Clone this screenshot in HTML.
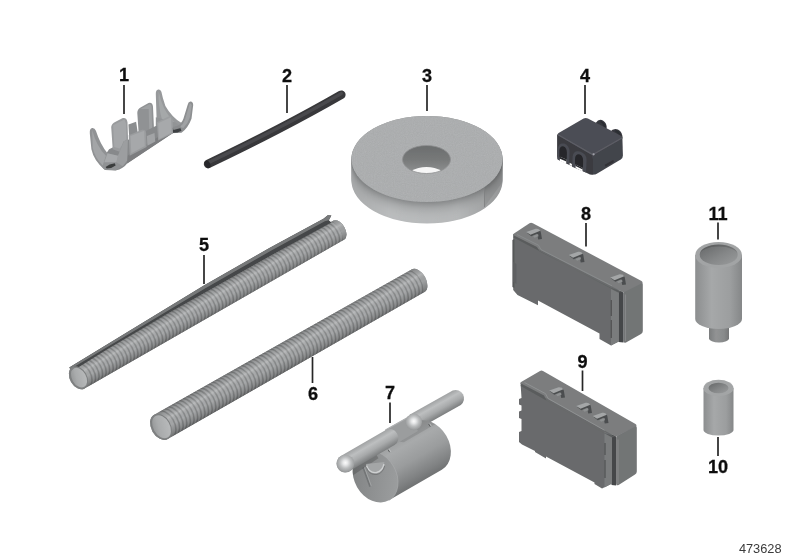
<!DOCTYPE html>
<html>
<head>
<meta charset="utf-8">
<title>473628</title>
<style>
html,body{margin:0;padding:0;background:#fff;}
body{width:800px;height:560px;overflow:hidden;font-family:"Liberation Sans",sans-serif;}
svg{display:block;}
.lbl{font-family:"Liberation Sans",sans-serif;font-weight:bold;font-size:18.1px;fill:#111;stroke:#111;stroke-width:0.3px;text-anchor:middle;}
.ld{stroke:#262626;stroke-width:1.7;fill:none;}
.num{font-family:"Liberation Sans",sans-serif;font-size:12.8px;fill:#3a3a3a;text-anchor:end;}
</style>
</head>
<body>
<svg width="800" height="560" viewBox="0 0 800 560">
<defs>
  <linearGradient id="gSide3" x1="0" x2="1" y1="0" y2="0">
    <stop offset="0" stop-color="#000" stop-opacity="0.10"/>
    <stop offset="0.25" stop-color="#000" stop-opacity="0.0"/>
    <stop offset="0.7" stop-color="#000" stop-opacity="0.02"/>
    <stop offset="1" stop-color="#000" stop-opacity="0.2"/>
  </linearGradient>
  <linearGradient id="gCyl" x1="0" x2="1" y1="0" y2="0">
    <stop offset="0" stop-color="#8c8e8f"/>
    <stop offset="0.35" stop-color="#a6a8a9"/>
    <stop offset="0.75" stop-color="#9c9e9f"/>
    <stop offset="1" stop-color="#858788"/>
  </linearGradient>
  <linearGradient id="gHole" x1="0" x2="0" y1="0" y2="1">
    <stop offset="0" stop-color="#6b6d6e"/>
    <stop offset="0.5" stop-color="#777979"/>
    <stop offset="1" stop-color="#909293"/>
  </linearGradient>
  <filter id="noise" x="0" y="0" width="100%" height="100%">
    <feTurbulence type="fractalNoise" baseFrequency="0.9" numOctaves="2" seed="3" result="n"/>
    <feColorMatrix type="matrix" values="0 0 0 0 0.45  0 0 0 0 0.46  0 0 0 0 0.47  0.9 0.9 0.9 0 -0.95"/>
    <feComposite in2="SourceGraphic" operator="in"/>
  </filter>
  <linearGradient id="gHole11" x1="0" x2="1" y1="0" y2="1">
    <stop offset="0" stop-color="#646667"/>
    <stop offset="0.55" stop-color="#858788"/>
    <stop offset="1" stop-color="#9a9c9d"/>
  </linearGradient>
  <g id="amark">
    <!-- embossed wedge mark, local coords centred ~ (0,0), ~13 wide x 8 tall -->
    <path d="M-6.5 -1.5 L1 -4.2 Q4 -4.6 4.6 -2.2 L5.6 3.6 L2.6 4 L1.6 -0.6 L-3 1.4 Z" fill="#4c4e4f"/>
    <path d="M-7 -2 L0.5 -4.6 Q3.4 -5 4.2 -3 L-3.6 0.2 Z" fill="#a4a6a7"/>
    <path d="M-1.6 1.2 L2.4 -0.4 L2.8 1.4 L-0.4 2.6 Z" fill="#8e9091"/>
  </g>
  <linearGradient id="gRod" x1="0" x2="0" y1="0" y2="1">
    <stop offset="0" stop-color="#a0a2a3"/>
    <stop offset="0.3" stop-color="#bdbfc0"/>
    <stop offset="0.62" stop-color="#a8aaab"/>
    <stop offset="1" stop-color="#7c7e7f"/>
  </linearGradient>
  <radialGradient id="gBall" cx="0.5" cy="0.45" r="0.62">
    <stop offset="0" stop-color="#fbfbfb"/>
    <stop offset="0.22" stop-color="#e6e7e8"/>
    <stop offset="0.5" stop-color="#bcbebf"/>
    <stop offset="0.8" stop-color="#9c9e9f"/>
    <stop offset="1" stop-color="#858788"/>
  </radialGradient>
  <linearGradient id="gBody7" x1="0" x2="0" y1="0" y2="1">
    <stop offset="0" stop-color="#959798"/>
    <stop offset="0.28" stop-color="#a8aaab"/>
    <stop offset="0.58" stop-color="#9a9c9d"/>
    <stop offset="0.86" stop-color="#808283"/>
    <stop offset="1" stop-color="#707273"/>
  </linearGradient>
  <linearGradient id="gFace7" x1="0" x2="1" y1="0" y2="1">
    <stop offset="0" stop-color="#7c7e7f"/>
    <stop offset="0.5" stop-color="#8f9192"/>
    <stop offset="1" stop-color="#a0a2a3"/>
  </linearGradient>
  <linearGradient id="gTubeIn" x1="0" x2="1" y1="0" y2="0.4">
    <stop offset="0" stop-color="#8f9192"/>
    <stop offset="0.45" stop-color="#a9abac"/>
    <stop offset="1" stop-color="#b6b8b9"/>
  </linearGradient>
  <linearGradient id="gTubeSh" x1="0" x2="0" y1="0" y2="1">
    <stop offset="0" stop-color="#000" stop-opacity="0.34"/>
    <stop offset="0.16" stop-color="#000" stop-opacity="0.10"/>
    <stop offset="0.36" stop-color="#fff" stop-opacity="0.16"/>
    <stop offset="0.6" stop-color="#000" stop-opacity="0.03"/>
    <stop offset="0.85" stop-color="#000" stop-opacity="0.22"/>
    <stop offset="1" stop-color="#000" stop-opacity="0.42"/>
  </linearGradient>
  <filter id="soft" filterUnits="userSpaceOnUse" x="0" y="0" width="800" height="560"><feGaussianBlur stdDeviation="0.45"/></filter>
</defs>
<rect x="0" y="0" width="800" height="560" fill="#fff"/>
<g filter="url(#soft)">

<!-- ========== PART 1 ========== -->
<g id="p1">
  <path d="M128.4 124.4 L136.1 121.7 L137.8 133.2 L129.2 136.5Z" fill="#8b8d8f"/>
  <path d="M137.3 113.1Q137.3 109.1 140.5 107.5L148.5 103.0Q152.5 101.9 153.0 106.7L154.2 133.2 138.9 136.5Z" fill="#909294"/>
  <path d="M140.5 109.1L149.3 104.3Q151.3 104.0 151.6 106.7L152.2 131.6 149.3 132.6L148.7 109.1Z" fill="#9fa1a3"/>
  <path d="M158.2 89.5Q155.8 89.8 155.8 93.8L156.6 119.6 181.5 126.0L182.3 123.6Q171.8 117.2 165.4 105.9Q162.5 97.9 161.4 91.8Q160.3 89.2 158.2 89.5Z" fill="#97999b"/>
  <path d="M158.7 91.4Q160.3 99.5 163.8 107.5Q168.6 117.2 175.1 122.8L162.2 120.4Q157.7 104.3 158.7 91.4Z" fill="#a9abad" opacity="0.8"/>
  <path d="M155.8 117.2 L175.1 122.3 L181.5 127.1 L171.8 129.2 L155.8 126.8Z" fill="#929496"/>
  <path d="M190.3 101.6Q188.2 101.9 187.6 105.1L183.4 118.8Q181.5 124.4 175.1 127.1L170.2 133.2 181.5 132.8Q187.9 128.4 191.5 118.8L193.2 105.1Q193.1 101.4 190.3 101.6Z" fill="#8d8f91"/>
  <path d="M189.9 103.0L185.0 119.6Q183.4 124.4 179.9 127.1L183.4 128.1Q187.9 123.6 189.9 117.2L191.8 105.1Z" fill="#a0a2a4"/>
  <path d="M171.0 128.1 L179.9 127.1 L181.5 130.8 L177.5 132.6 L170.2 132.9Z" fill="#3e4042"/>
  <path d="M172.6 127.1 L180.2 125.5 L180.9 128.1 L173.5 130.0Z" fill="#8a8c8e"/>
  <path d="M109.1 149.3L155.8 126.0 171.8 127.1 172.6 133.2 127.1 163.5Q123.6 168.6 115.6 170.6L105.1 169.9Q101.1 167.0 100.3 162.2Z" fill="#87898b"/>
  <path d="M127.6 155.8 L171.0 129.2 L172.6 133.2 L127.1 163.5Z" fill="#7b7d7f"/>
  <path d="M156.9 122.3L168.6 116.4Q172.3 115.6 172.6 119.6L173.0 133.2 158.2 140.5Z" fill="#9c9ea0"/>
  <path d="M158.2 123.3 L171.0 117.2 L171.5 132.4 L159.3 138.9Z" fill="#a7a9ab"/>
  <path d="M146.9 136.1 L154.5 132.9 L155.3 141.6 L147.4 145.8Z" fill="#a2a4a6"/>
  <path d="M128.7 135.2L142.1 129.7Q145.8 129.2 146.1 132.9L146.6 146.9 129.7 155.8Z" fill="#9a9c9e"/>
  <path d="M130.4 136.1 L144.2 130.8 L144.8 146.1 L131.3 153.3Z" fill="#a6a8aa"/>
  <path d="M111.2 127.1Q111.5 123.3 115.6 121.7L122.8 118.1Q126.8 117.5 127.5 122.3L128.1 140.5 121.7 152.5 112.7 149.3Z" fill="#999b9d"/>
  <path d="M113.1 125.2 L124.4 119.6 L126.0 123.6 L126.5 138.9 L119.6 148.5 L114.3 146.9Z" fill="#a5a7a9"/>
  <path d="M92.2 128.1Q89.5 128.7 89.8 133.2L91.4 149.3Q93.8 160.6 104.3 169.4L115.6 170.2Q125.2 166.2 127.1 159.0L127.8 139.7 123.6 141.3L118.0 155.8 107.5 153.3Q100.3 144.5 95.9 130.8Q94.6 127.8 92.2 128.1Z" fill="#909294"/>
  <path d="M92.2 130.0Q96.3 146.1 105.9 155.8L102.7 165.4Q94.6 157.4 92.7 147.7Z" fill="#a3a5a7"/>
  <path d="M118.0 155.8 L123.9 141.3 L127.8 139.7 L127.1 160.6 L122.8 166.2 L116.4 162.2Z" fill="#9c9ea0"/>
  <path d="M107.5 153.3 L118.0 155.8 L116.4 162.2 L104.3 162.2Z" fill="#a7a9ab"/>
  <path d="M105.6 167.0Q109.1 163.8 114.8 163.2L115.6 165.4Q111.5 168.6 106.7 168.6Z" fill="#3a3c3e"/>
</g>
<!-- ========== PART 2 ========== -->
<g id="p2">
  <path d="M208.2 163.9 C250 144 300 118.5 341.2 94.8" stroke="#38383a" stroke-width="8.8" stroke-linecap="round" fill="none"/>
  <path d="M208.2 162.7 C250 142.8 300 117.3 341.2 93.6" stroke="#4a4a4d" stroke-width="3.4" stroke-linecap="round" fill="none"/>
  <ellipse cx="207.6" cy="164.4" rx="2.7" ry="4" transform="rotate(-26 207.6 164.4)" fill="#28282a"/>
</g>
<!-- ========== PART 3 ========== -->
<g id="p3">
  <g>
  <ellipse cx="427" cy="180.50" rx="75.5" ry="43" fill="#babcbd"/>
  <ellipse cx="427" cy="179.52" rx="75.5" ry="43" fill="#babcbd"/>
  <ellipse cx="427" cy="178.55" rx="75.5" ry="43" fill="#babcbd"/>
  <ellipse cx="427" cy="177.57" rx="75.5" ry="43" fill="#babcbd"/>
  <ellipse cx="427" cy="176.59" rx="75.5" ry="43" fill="#b9bbbc"/>
  <ellipse cx="427" cy="175.61" rx="75.5" ry="43" fill="#b9bbbc"/>
  <ellipse cx="427" cy="174.64" rx="75.5" ry="43" fill="#b8babb"/>
  <ellipse cx="427" cy="173.66" rx="75.5" ry="43" fill="#b7b9ba"/>
  <ellipse cx="427" cy="172.68" rx="75.5" ry="43" fill="#b6b8b9"/>
  <ellipse cx="427" cy="171.70" rx="75.5" ry="43" fill="#b5b7b8"/>
  <ellipse cx="427" cy="170.73" rx="75.5" ry="43" fill="#b3b5b6"/>
  <ellipse cx="427" cy="169.75" rx="75.5" ry="43" fill="#b1b3b4"/>
  <ellipse cx="427" cy="168.77" rx="75.5" ry="43" fill="#afb1b2"/>
  <ellipse cx="427" cy="167.80" rx="75.5" ry="43" fill="#adafb0"/>
  <ellipse cx="427" cy="166.82" rx="75.5" ry="43" fill="#aaacad"/>
  <ellipse cx="427" cy="165.84" rx="75.5" ry="43" fill="#a7a9aa"/>
  <ellipse cx="427" cy="164.86" rx="75.5" ry="43" fill="#a3a5a6"/>
  <ellipse cx="427" cy="163.89" rx="75.5" ry="43" fill="#9fa1a2"/>
  <ellipse cx="427" cy="162.91" rx="75.5" ry="43" fill="#9b9d9e"/>
  <ellipse cx="427" cy="161.93" rx="75.5" ry="43" fill="#969899"/>
  <ellipse cx="427" cy="160.95" rx="75.5" ry="43" fill="#919394"/>
  <ellipse cx="427" cy="159.98" rx="75.5" ry="43" fill="#8c8e8f"/>
  <ellipse cx="427" cy="159.00" rx="75.5" ry="43" fill="#868889"/>
  </g>
  <!-- horizontal shading of wall -->
  <path d="M351.5 159 L351.5 180.5 A75.5 43 0 0 0 502.5 180.5 L502.5 159 A75.5 43 0 0 1 351.5 159Z" fill="url(#gSide3)"/>
  <!-- tape end -->
  <path d="M484.5 185.5 L484.5 207 L502.5 182 L502.5 160 Z" fill="#000" opacity="0.07"/>
  <path d="M484.5 185.5 L484.5 207" stroke="#7d7f80" stroke-width="0.8"/>
  <!-- top -->
  <ellipse cx="427" cy="159" rx="75.5" ry="43" fill="#a9abac"/>
  <ellipse cx="427" cy="159" rx="75.5" ry="43" fill="#fff" filter="url(#noise)" opacity="0.8"/>
  <!-- hole -->
  <clipPath id="holeclip"><ellipse cx="426.5" cy="159.5" rx="24" ry="14"/></clipPath>
  <ellipse cx="426.5" cy="159.5" rx="24" ry="14" fill="url(#gHole)"/>
  <g clip-path="url(#holeclip)">
    <ellipse cx="426.5" cy="180.5" rx="21" ry="13.5" fill="#f6f6f6"/>
  </g>
  <ellipse cx="426.5" cy="159.5" rx="24" ry="14" fill="none" stroke="#8f9192" stroke-width="0.8"/>
</g>
<!-- ========== PART 4 ========== -->
<g id="p4">
  <path d="M595.7 122.9Q598.6 118.6 602.9 120.4Q607.1 122.9 606.7 128.6L599.3 130.0Z" fill="#36373d"/>
  <path d="M601.0 121.0Q605.7 122.9 605.9 127.9L603.6 128.6Q603.6 123.6 600.0 122.1Z" fill="#2c2d32"/>
  <path d="M610.0 132.1Q613.3 127.9 617.9 129.6Q622.9 132.1 622.4 138.6L615.0 139.3Z" fill="#36373d"/>
  <path d="M616.1 130.1Q621.4 132.4 621.6 138.1L619.0 138.6Q619.0 133.3 615.0 131.4Z" fill="#2c2d32"/>
  <path d="M557.1 134.3L592.9 154.3 593.3 174.7Q590.7 175.3 587.9 173.6L558.6 160.0Q557.0 159.0 557.1 156.4Z" fill="#3a3b41"/>
  <path d="M592.9 154.3L622.4 137.6 622.9 155.7Q622.9 158.1 620.7 159.6L596.4 173.9Q594.3 175.0 593.0 174.4Z" fill="#43444b"/>
  <path d="M604.7 164.7L613.3 160.0 613.9 161.9 605.6 166.7Z" fill="#303136"/>
  <path d="M583.6 118.6Q585.7 117.3 587.9 118.6L621.4 136.1Q623.3 137.6 621.4 139.0L595.0 154.3Q592.9 155.3 590.7 154.3L558.6 135.7Q556.7 134.3 558.6 132.9Z" fill="#4c4d54"/>
  <path d="M558.1 134.7L591.0 153.6Q592.9 154.6 594.7 153.6L621.9 138.1" stroke="#5d5e66" stroke-width="1.2" fill="none"/>
  <circle cx="593.6" cy="154.3" r="1.1" fill="#a0a1a8"/>
  <path d="M557.6 159.6L557.9 148.6Q558.6 142.4 564.3 143.6Q569.6 145.7 569.6 152.1L569.0 163.9Z" fill="#4a4b52"/>
  <path d="M559.3 158.7L559.4 150.0Q560.0 145.6 563.9 146.4Q567.0 147.9 566.9 152.9L566.6 161.9Z" fill="#25262a"/>
  <path d="M572.1 166.7L572.7 156.1Q573.6 150.1 580.0 151.6Q586.7 153.9 586.6 160.0L586.0 172.4Z" fill="#4a4b52"/>
  <path d="M575.0 165.6L575.1 157.9Q575.9 153.3 579.9 154.4Q583.3 155.9 583.1 161.0L582.9 170.1Z" fill="#25262a"/>
  <path d="M559.9 161.0L566.1 163.9 566.4 159.6 559.9 156.7Z" fill="#ffffff"/>
  <path d="M559.9 156.7L566.4 159.6 566.4 161.6 559.9 158.7Z" fill="#25262a"/>
  <path d="M575.6 168.1L582.4 171.6 582.7 167.9 575.6 164.4Z" fill="#ffffff"/>
  <path d="M575.6 164.4L582.7 167.9 582.7 169.6 575.6 166.1Z" fill="#25262a"/>
  <path d="M569.6 165.0L571.9 166.1 571.9 163.9 569.6 162.7Z" fill="#ffffff"/>
</g>
<!-- ========== PART 5 ========== -->
<g id="p5" transform="translate(78.50 377.70) rotate(-29.55)">
  <clipPath id="p5clip"><path d="M0 -12.30 L299.46 -10.80 A6.00 10.80 0 0 1 299.46 10.80 L0 12.30 A8.60 12.30 0 0 1 0 -12.30Z"/></clipPath>
  <path d="M0 -12.30 L299.46 -10.80 A6.00 10.80 0 0 1 299.46 10.80 L0 12.30 A8.60 12.30 0 0 1 0 -12.30Z" fill="#a9abac"/>
  <g clip-path="url(#p5clip)">
    <path d="M4.10 -13.28A8.56 13.28 0 0 1 4.10 13.28M8.20 -13.26A8.53 13.26 0 0 1 8.20 13.26M12.30 -13.24A8.49 13.24 0 0 1 12.30 13.24M16.40 -13.22A8.46 13.22 0 0 1 16.40 13.22M20.50 -13.20A8.42 13.20 0 0 1 20.50 13.20M24.60 -13.18A8.39 13.18 0 0 1 24.60 13.18M28.70 -13.16A8.35 13.16 0 0 1 28.70 13.16M32.80 -13.14A8.32 13.14 0 0 1 32.80 13.14M36.90 -13.12A8.28 13.12 0 0 1 36.90 13.12M41.00 -13.09A8.24 13.09 0 0 1 41.00 13.09M45.10 -13.07A8.21 13.07 0 0 1 45.10 13.07M49.20 -13.05A8.17 13.05 0 0 1 49.20 13.05M53.30 -13.03A8.14 13.03 0 0 1 53.30 13.03M57.40 -13.01A8.10 13.01 0 0 1 57.40 13.01M61.50 -12.99A8.07 12.99 0 0 1 61.50 12.99M65.60 -12.97A8.03 12.97 0 0 1 65.60 12.97M69.70 -12.95A7.99 12.95 0 0 1 69.70 12.95M73.80 -12.93A7.96 12.93 0 0 1 73.80 12.93M77.90 -12.91A7.92 12.91 0 0 1 77.90 12.91M82.00 -12.89A7.89 12.89 0 0 1 82.00 12.89M86.10 -12.87A7.85 12.87 0 0 1 86.10 12.87M90.20 -12.85A7.82 12.85 0 0 1 90.20 12.85M94.30 -12.83A7.78 12.83 0 0 1 94.30 12.83M98.40 -12.81A7.75 12.81 0 0 1 98.40 12.81M102.50 -12.79A7.71 12.79 0 0 1 102.50 12.79M106.60 -12.77A7.67 12.77 0 0 1 106.60 12.77M110.70 -12.75A7.64 12.75 0 0 1 110.70 12.75M114.80 -12.72A7.60 12.72 0 0 1 114.80 12.72M118.90 -12.70A7.57 12.70 0 0 1 118.90 12.70M123.00 -12.68A7.53 12.68 0 0 1 123.00 12.68M127.10 -12.66A7.50 12.66 0 0 1 127.10 12.66M131.20 -12.64A7.46 12.64 0 0 1 131.20 12.64M135.30 -12.62A7.43 12.62 0 0 1 135.30 12.62M139.40 -12.60A7.39 12.60 0 0 1 139.40 12.60M143.50 -12.58A7.35 12.58 0 0 1 143.50 12.58M147.60 -12.56A7.32 12.56 0 0 1 147.60 12.56M151.70 -12.54A7.28 12.54 0 0 1 151.70 12.54M155.80 -12.52A7.25 12.52 0 0 1 155.80 12.52M159.90 -12.50A7.21 12.50 0 0 1 159.90 12.50M164.00 -12.48A7.18 12.48 0 0 1 164.00 12.48M168.10 -12.46A7.14 12.46 0 0 1 168.10 12.46M172.20 -12.44A7.10 12.44 0 0 1 172.20 12.44M176.30 -12.42A7.07 12.42 0 0 1 176.30 12.42M180.40 -12.40A7.03 12.40 0 0 1 180.40 12.40M184.50 -12.38A7.00 12.38 0 0 1 184.50 12.38M188.60 -12.36A6.96 12.36 0 0 1 188.60 12.36M192.70 -12.33A6.93 12.33 0 0 1 192.70 12.33M196.80 -12.31A6.89 12.31 0 0 1 196.80 12.31M200.90 -12.29A6.86 12.29 0 0 1 200.90 12.29M205.00 -12.27A6.82 12.27 0 0 1 205.00 12.27M209.10 -12.25A6.78 12.25 0 0 1 209.10 12.25M213.20 -12.23A6.75 12.23 0 0 1 213.20 12.23M217.30 -12.21A6.71 12.21 0 0 1 217.30 12.21M221.40 -12.19A6.68 12.19 0 0 1 221.40 12.19M225.50 -12.17A6.64 12.17 0 0 1 225.50 12.17M229.60 -12.15A6.61 12.15 0 0 1 229.60 12.15M233.70 -12.13A6.57 12.13 0 0 1 233.70 12.13M237.80 -12.11A6.54 12.11 0 0 1 237.80 12.11M241.90 -12.09A6.50 12.09 0 0 1 241.90 12.09M246.00 -12.07A6.46 12.07 0 0 1 246.00 12.07M250.10 -12.05A6.43 12.05 0 0 1 250.10 12.05M254.20 -12.03A6.39 12.03 0 0 1 254.20 12.03M258.30 -12.01A6.36 12.01 0 0 1 258.30 12.01M262.40 -11.99A6.32 11.99 0 0 1 262.40 11.99M266.50 -11.97A6.29 11.97 0 0 1 266.50 11.97M270.60 -11.94A6.25 11.94 0 0 1 270.60 11.94M274.70 -11.92A6.21 11.92 0 0 1 274.70 11.92M278.80 -11.90A6.18 11.90 0 0 1 278.80 11.90M282.90 -11.88A6.14 11.88 0 0 1 282.90 11.88M287.00 -11.86A6.11 11.86 0 0 1 287.00 11.86M291.10 -11.84A6.07 11.84 0 0 1 291.10 11.84M295.20 -11.82A6.04 11.82 0 0 1 295.20 11.82M299.30 -11.80A6.00 11.80 0 0 1 299.30 11.80M303.40 -11.78A5.97 11.78 0 0 1 303.40 11.78" stroke="#8a8c8d" stroke-width="1.5" fill="none"/>
    <path d="M6.00 -13.27A8.55 13.27 0 0 1 6.00 13.27M10.10 -13.25A8.51 13.25 0 0 1 10.10 13.25M14.20 -13.23A8.48 13.23 0 0 1 14.20 13.23M18.30 -13.21A8.44 13.21 0 0 1 18.30 13.21M22.40 -13.19A8.41 13.19 0 0 1 22.40 13.19M26.50 -13.17A8.37 13.17 0 0 1 26.50 13.17M30.60 -13.15A8.33 13.15 0 0 1 30.60 13.15M34.70 -13.13A8.30 13.13 0 0 1 34.70 13.13M38.80 -13.11A8.26 13.11 0 0 1 38.80 13.11M42.90 -13.09A8.23 13.09 0 0 1 42.90 13.09M47.00 -13.06A8.19 13.06 0 0 1 47.00 13.06M51.10 -13.04A8.16 13.04 0 0 1 51.10 13.04M55.20 -13.02A8.12 13.02 0 0 1 55.20 13.02M59.30 -13.00A8.09 13.00 0 0 1 59.30 13.00M63.40 -12.98A8.05 12.98 0 0 1 63.40 12.98M67.50 -12.96A8.01 12.96 0 0 1 67.50 12.96M71.60 -12.94A7.98 12.94 0 0 1 71.60 12.94M75.70 -12.92A7.94 12.92 0 0 1 75.70 12.92M79.80 -12.90A7.91 12.90 0 0 1 79.80 12.90M83.90 -12.88A7.87 12.88 0 0 1 83.90 12.88M88.00 -12.86A7.84 12.86 0 0 1 88.00 12.86M92.10 -12.84A7.80 12.84 0 0 1 92.10 12.84M96.20 -12.82A7.76 12.82 0 0 1 96.20 12.82M100.30 -12.80A7.73 12.80 0 0 1 100.30 12.80M104.40 -12.78A7.69 12.78 0 0 1 104.40 12.78M108.50 -12.76A7.66 12.76 0 0 1 108.50 12.76M112.60 -12.74A7.62 12.74 0 0 1 112.60 12.74M116.70 -12.72A7.59 12.72 0 0 1 116.70 12.72M120.80 -12.69A7.55 12.69 0 0 1 120.80 12.69M124.90 -12.67A7.52 12.67 0 0 1 124.90 12.67M129.00 -12.65A7.48 12.65 0 0 1 129.00 12.65M133.10 -12.63A7.44 12.63 0 0 1 133.10 12.63M137.20 -12.61A7.41 12.61 0 0 1 137.20 12.61M141.30 -12.59A7.37 12.59 0 0 1 141.30 12.59M145.40 -12.57A7.34 12.57 0 0 1 145.40 12.57M149.50 -12.55A7.30 12.55 0 0 1 149.50 12.55M153.60 -12.53A7.27 12.53 0 0 1 153.60 12.53M157.70 -12.51A7.23 12.51 0 0 1 157.70 12.51M161.80 -12.49A7.20 12.49 0 0 1 161.80 12.49M165.90 -12.47A7.16 12.47 0 0 1 165.90 12.47M170.00 -12.45A7.12 12.45 0 0 1 170.00 12.45M174.10 -12.43A7.09 12.43 0 0 1 174.10 12.43M178.20 -12.41A7.05 12.41 0 0 1 178.20 12.41M182.30 -12.39A7.02 12.39 0 0 1 182.30 12.39M186.40 -12.37A6.98 12.37 0 0 1 186.40 12.37M190.50 -12.35A6.95 12.35 0 0 1 190.50 12.35M194.60 -12.33A6.91 12.33 0 0 1 194.60 12.33M198.70 -12.30A6.87 12.30 0 0 1 198.70 12.30M202.80 -12.28A6.84 12.28 0 0 1 202.80 12.28M206.90 -12.26A6.80 12.26 0 0 1 206.90 12.26M211.00 -12.24A6.77 12.24 0 0 1 211.00 12.24M215.10 -12.22A6.73 12.22 0 0 1 215.10 12.22M219.20 -12.20A6.70 12.20 0 0 1 219.20 12.20M223.30 -12.18A6.66 12.18 0 0 1 223.30 12.18M227.40 -12.16A6.63 12.16 0 0 1 227.40 12.16M231.50 -12.14A6.59 12.14 0 0 1 231.50 12.14M235.60 -12.12A6.55 12.12 0 0 1 235.60 12.12M239.70 -12.10A6.52 12.10 0 0 1 239.70 12.10M243.80 -12.08A6.48 12.08 0 0 1 243.80 12.08M247.90 -12.06A6.45 12.06 0 0 1 247.90 12.06M252.00 -12.04A6.41 12.04 0 0 1 252.00 12.04M256.10 -12.02A6.38 12.02 0 0 1 256.10 12.02M260.20 -12.00A6.34 12.00 0 0 1 260.20 12.00M264.30 -11.98A6.31 11.98 0 0 1 264.30 11.98M268.40 -11.96A6.27 11.96 0 0 1 268.40 11.96M272.50 -11.94A6.23 11.94 0 0 1 272.50 11.94M276.60 -11.91A6.20 11.91 0 0 1 276.60 11.91M280.70 -11.89A6.16 11.89 0 0 1 280.70 11.89M284.80 -11.87A6.13 11.87 0 0 1 284.80 11.87M288.90 -11.85A6.09 11.85 0 0 1 288.90 11.85M293.00 -11.83A6.06 11.83 0 0 1 293.00 11.83M297.10 -11.81A6.02 11.81 0 0 1 297.10 11.81M301.20 -11.79A5.98 11.79 0 0 1 301.20 11.79M305.30 -11.77A5.95 11.77 0 0 1 305.30 11.77" stroke="#b1b3b4" stroke-width="1.1" fill="none" opacity="0.55"/>
    <path d="M294.46 -12.80 A6.00 12.80 0 0 1 294.46 12.80 L307.46 12.80 L307.46 -12.80Z" fill="#a3a5a6"/>
    <rect x="-10.6" y="-13.30" width="320.1" height="26.60" fill="url(#gTubeSh)"/>
  </g>
  <path d="M-3.00 -13.50 L68.00 -15.60 L154.00 -18.30 L230.00 -18.60 L291.46 -17.40 L296.96 -18.40 L299.96 -16.40 L295.46 -13.60 L296.46 -10.20 L230 -11.2 L110 -11.6 L40 -10.6 L-2 -8.70 Z" fill="#454748"/>
  <path d="M-3.00 -13.50 L68.00 -15.60 L154.00 -18.30 L230.00 -18.60 L291.46 -17.40 L296.96 -18.40 L299.96 -16.40 L295.46 -13.60 L291.46 -14.60 L230.00 -15.50 L154.00 -15.20 L68.00 -13.20 L-3.00 -11.50 Z" fill="#77797a"/>
  <ellipse cx="0" cy="0" rx="8.60" ry="12.30" fill="#7e8081"/>
  <ellipse cx="0.5" cy="0.2" rx="7.10" ry="10.60" fill="url(#gTubeIn)"/>
</g>
<!-- ========== PART 6 ========== -->
<g id="p6" transform="translate(161.00 426.80) rotate(-29.60)">
  <clipPath id="p6clip"><path d="M0 -14.00 L295.58 -13.00 A8.00 13.00 0 0 1 295.58 13.00 L0 14.00 A9.80 14.00 0 0 1 0 -14.00Z"/></clipPath>
  <path d="M0 -14.00 L295.58 -13.00 A8.00 13.00 0 0 1 295.58 13.00 L0 14.00 A9.80 14.00 0 0 1 0 -14.00Z" fill="#a9abac"/>
  <g clip-path="url(#p6clip)">
    <path d="M4.20 -14.99A9.77 14.99 0 0 1 4.20 14.99M8.40 -14.97A9.75 14.97 0 0 1 8.40 14.97M12.60 -14.96A9.72 14.96 0 0 1 12.60 14.96M16.80 -14.94A9.70 14.94 0 0 1 16.80 14.94M21.00 -14.93A9.67 14.93 0 0 1 21.00 14.93M25.20 -14.91A9.65 14.91 0 0 1 25.20 14.91M29.40 -14.90A9.62 14.90 0 0 1 29.40 14.90M33.60 -14.89A9.60 14.89 0 0 1 33.60 14.89M37.80 -14.87A9.57 14.87 0 0 1 37.80 14.87M42.00 -14.86A9.54 14.86 0 0 1 42.00 14.86M46.20 -14.84A9.52 14.84 0 0 1 46.20 14.84M50.40 -14.83A9.49 14.83 0 0 1 50.40 14.83M54.60 -14.82A9.47 14.82 0 0 1 54.60 14.82M58.80 -14.80A9.44 14.80 0 0 1 58.80 14.80M63.00 -14.79A9.42 14.79 0 0 1 63.00 14.79M67.20 -14.77A9.39 14.77 0 0 1 67.20 14.77M71.40 -14.76A9.37 14.76 0 0 1 71.40 14.76M75.60 -14.74A9.34 14.74 0 0 1 75.60 14.74M79.80 -14.73A9.31 14.73 0 0 1 79.80 14.73M84.00 -14.72A9.29 14.72 0 0 1 84.00 14.72M88.20 -14.70A9.26 14.70 0 0 1 88.20 14.70M92.40 -14.69A9.24 14.69 0 0 1 92.40 14.69M96.60 -14.67A9.21 14.67 0 0 1 96.60 14.67M100.80 -14.66A9.19 14.66 0 0 1 100.80 14.66M105.00 -14.64A9.16 14.64 0 0 1 105.00 14.64M109.20 -14.63A9.13 14.63 0 0 1 109.20 14.63M113.40 -14.62A9.11 14.62 0 0 1 113.40 14.62M117.60 -14.60A9.08 14.60 0 0 1 117.60 14.60M121.80 -14.59A9.06 14.59 0 0 1 121.80 14.59M126.00 -14.57A9.03 14.57 0 0 1 126.00 14.57M130.20 -14.56A9.01 14.56 0 0 1 130.20 14.56M134.40 -14.55A8.98 14.55 0 0 1 134.40 14.55M138.60 -14.53A8.96 14.53 0 0 1 138.60 14.53M142.80 -14.52A8.93 14.52 0 0 1 142.80 14.52M147.00 -14.50A8.90 14.50 0 0 1 147.00 14.50M151.20 -14.49A8.88 14.49 0 0 1 151.20 14.49M155.40 -14.47A8.85 14.47 0 0 1 155.40 14.47M159.60 -14.46A8.83 14.46 0 0 1 159.60 14.46M163.80 -14.45A8.80 14.45 0 0 1 163.80 14.45M168.00 -14.43A8.78 14.43 0 0 1 168.00 14.43M172.20 -14.42A8.75 14.42 0 0 1 172.20 14.42M176.40 -14.40A8.73 14.40 0 0 1 176.40 14.40M180.60 -14.39A8.70 14.39 0 0 1 180.60 14.39M184.80 -14.37A8.67 14.37 0 0 1 184.80 14.37M189.00 -14.36A8.65 14.36 0 0 1 189.00 14.36M193.20 -14.35A8.62 14.35 0 0 1 193.20 14.35M197.40 -14.33A8.60 14.33 0 0 1 197.40 14.33M201.60 -14.32A8.57 14.32 0 0 1 201.60 14.32M205.80 -14.30A8.55 14.30 0 0 1 205.80 14.30M210.00 -14.29A8.52 14.29 0 0 1 210.00 14.29M214.20 -14.28A8.50 14.28 0 0 1 214.20 14.28M218.40 -14.26A8.47 14.26 0 0 1 218.40 14.26M222.60 -14.25A8.44 14.25 0 0 1 222.60 14.25M226.80 -14.23A8.42 14.23 0 0 1 226.80 14.23M231.00 -14.22A8.39 14.22 0 0 1 231.00 14.22M235.20 -14.20A8.37 14.20 0 0 1 235.20 14.20M239.40 -14.19A8.34 14.19 0 0 1 239.40 14.19M243.60 -14.18A8.32 14.18 0 0 1 243.60 14.18M247.80 -14.16A8.29 14.16 0 0 1 247.80 14.16M252.00 -14.15A8.27 14.15 0 0 1 252.00 14.15M256.20 -14.13A8.24 14.13 0 0 1 256.20 14.13M260.40 -14.12A8.21 14.12 0 0 1 260.40 14.12M264.60 -14.10A8.19 14.10 0 0 1 264.60 14.10M268.80 -14.09A8.16 14.09 0 0 1 268.80 14.09M273.00 -14.08A8.14 14.08 0 0 1 273.00 14.08M277.20 -14.06A8.11 14.06 0 0 1 277.20 14.06M281.40 -14.05A8.09 14.05 0 0 1 281.40 14.05M285.60 -14.03A8.06 14.03 0 0 1 285.60 14.03M289.80 -14.02A8.04 14.02 0 0 1 289.80 14.02M294.00 -14.01A8.01 14.01 0 0 1 294.00 14.01M298.20 -13.99A7.98 13.99 0 0 1 298.20 13.99" stroke="#8a8c8d" stroke-width="1.5" fill="none"/>
    <path d="M6.10 -14.98A9.76 14.98 0 0 1 6.10 14.98M10.30 -14.97A9.74 14.97 0 0 1 10.30 14.97M14.50 -14.95A9.71 14.95 0 0 1 14.50 14.95M18.70 -14.94A9.69 14.94 0 0 1 18.70 14.94M22.90 -14.92A9.66 14.92 0 0 1 22.90 14.92M27.10 -14.91A9.63 14.91 0 0 1 27.10 14.91M31.30 -14.89A9.61 14.89 0 0 1 31.30 14.89M35.50 -14.88A9.58 14.88 0 0 1 35.50 14.88M39.70 -14.87A9.56 14.87 0 0 1 39.70 14.87M43.90 -14.85A9.53 14.85 0 0 1 43.90 14.85M48.10 -14.84A9.51 14.84 0 0 1 48.10 14.84M52.30 -14.82A9.48 14.82 0 0 1 52.30 14.82M56.50 -14.81A9.46 14.81 0 0 1 56.50 14.81M60.70 -14.79A9.43 14.79 0 0 1 60.70 14.79M64.90 -14.78A9.40 14.78 0 0 1 64.90 14.78M69.10 -14.77A9.38 14.77 0 0 1 69.10 14.77M73.30 -14.75A9.35 14.75 0 0 1 73.30 14.75M77.50 -14.74A9.33 14.74 0 0 1 77.50 14.74M81.70 -14.72A9.30 14.72 0 0 1 81.70 14.72M85.90 -14.71A9.28 14.71 0 0 1 85.90 14.71M90.10 -14.70A9.25 14.70 0 0 1 90.10 14.70M94.30 -14.68A9.23 14.68 0 0 1 94.30 14.68M98.50 -14.67A9.20 14.67 0 0 1 98.50 14.67M102.70 -14.65A9.17 14.65 0 0 1 102.70 14.65M106.90 -14.64A9.15 14.64 0 0 1 106.90 14.64M111.10 -14.62A9.12 14.62 0 0 1 111.10 14.62M115.30 -14.61A9.10 14.61 0 0 1 115.30 14.61M119.50 -14.60A9.07 14.60 0 0 1 119.50 14.60M123.70 -14.58A9.05 14.58 0 0 1 123.70 14.58M127.90 -14.57A9.02 14.57 0 0 1 127.90 14.57M132.10 -14.55A9.00 14.55 0 0 1 132.10 14.55M136.30 -14.54A8.97 14.54 0 0 1 136.30 14.54M140.50 -14.52A8.94 14.52 0 0 1 140.50 14.52M144.70 -14.51A8.92 14.51 0 0 1 144.70 14.51M148.90 -14.50A8.89 14.50 0 0 1 148.90 14.50M153.10 -14.48A8.87 14.48 0 0 1 153.10 14.48M157.30 -14.47A8.84 14.47 0 0 1 157.30 14.47M161.50 -14.45A8.82 14.45 0 0 1 161.50 14.45M165.70 -14.44A8.79 14.44 0 0 1 165.70 14.44M169.90 -14.43A8.77 14.43 0 0 1 169.90 14.43M174.10 -14.41A8.74 14.41 0 0 1 174.10 14.41M178.30 -14.40A8.71 14.40 0 0 1 178.30 14.40M182.50 -14.38A8.69 14.38 0 0 1 182.50 14.38M186.70 -14.37A8.66 14.37 0 0 1 186.70 14.37M190.90 -14.35A8.64 14.35 0 0 1 190.90 14.35M195.10 -14.34A8.61 14.34 0 0 1 195.10 14.34M199.30 -14.33A8.59 14.33 0 0 1 199.30 14.33M203.50 -14.31A8.56 14.31 0 0 1 203.50 14.31M207.70 -14.30A8.54 14.30 0 0 1 207.70 14.30M211.90 -14.28A8.51 14.28 0 0 1 211.90 14.28M216.10 -14.27A8.48 14.27 0 0 1 216.10 14.27M220.30 -14.25A8.46 14.25 0 0 1 220.30 14.25M224.50 -14.24A8.43 14.24 0 0 1 224.50 14.24M228.70 -14.23A8.41 14.23 0 0 1 228.70 14.23M232.90 -14.21A8.38 14.21 0 0 1 232.90 14.21M237.10 -14.20A8.36 14.20 0 0 1 237.10 14.20M241.30 -14.18A8.33 14.18 0 0 1 241.30 14.18M245.50 -14.17A8.30 14.17 0 0 1 245.50 14.17M249.70 -14.16A8.28 14.16 0 0 1 249.70 14.16M253.90 -14.14A8.25 14.14 0 0 1 253.90 14.14M258.10 -14.13A8.23 14.13 0 0 1 258.10 14.13M262.30 -14.11A8.20 14.11 0 0 1 262.30 14.11M266.50 -14.10A8.18 14.10 0 0 1 266.50 14.10M270.70 -14.08A8.15 14.08 0 0 1 270.70 14.08M274.90 -14.07A8.13 14.07 0 0 1 274.90 14.07M279.10 -14.06A8.10 14.06 0 0 1 279.10 14.06M283.30 -14.04A8.07 14.04 0 0 1 283.30 14.04M287.50 -14.03A8.05 14.03 0 0 1 287.50 14.03M291.70 -14.01A8.02 14.01 0 0 1 291.70 14.01M295.90 -14.00A8.00 14.00 0 0 1 295.90 14.00M300.10 -13.98A7.97 13.98 0 0 1 300.10 13.98" stroke="#b1b3b4" stroke-width="1.1" fill="none" opacity="0.55"/>
    <path d="M290.58 -15.00 A8.00 15.00 0 0 1 290.58 15.00 L305.58 15.00 L305.58 -15.00Z" fill="#a3a5a6"/>
    <rect x="-11.8" y="-15.00" width="319.4" height="30.00" fill="url(#gTubeSh)"/>
  </g>
  <ellipse cx="0" cy="0" rx="9.80" ry="14.00" fill="#7e8081"/>
  <ellipse cx="0.5" cy="0.2" rx="8.30" ry="12.30" fill="url(#gTubeIn)"/>
</g>
<!-- ========== PART 7 ========== -->
<g id="p7">
  <!-- rod B (rear) -->
  <g transform="translate(413.5 421.8) rotate(-29.2)">
    <path d="M0 -8.2 L49.5 -8.2 A8.4 8.4 0 0 1 49.5 8.4 L0 8.4 Z" fill="url(#gRod)"/>
  </g>
  <!-- cylinder body -->
  <clipPath id="c7"><path d="M0 -27.3 L61 -27.3 A21 27.3 0 0 1 61 27.3 L0 27.3 A21 27.3 0 0 1 0 -27.3 Z"/></clipPath>
  <g transform="translate(375.3 476.7) rotate(-30)">
    <path d="M0 -27.3 L61 -27.3 A21 27.3 0 0 1 61 27.3 L0 27.3 Z" fill="url(#gBody7)"/>
    <g clip-path="url(#c7)">
      <!-- shadow under rod B -->
      <path d="M36 -30 L86 -30 L86 -15.5 L42 -15.5 Q36 -18 36 -30Z" fill="#000" opacity="0.10"/>
    </g>
    <!-- front face -->
    <ellipse cx="0" cy="0" rx="21" ry="27.3" fill="url(#gFace7)"/>
    <path d="M0 -27.3 A21 27.3 0 0 1 0 27.3" stroke="#a9abac" stroke-width="0.9" fill="none" opacity="0.7"/>
    <!-- groove on face -->
    <path d="M-6 -14 L-9.5 6" stroke="#727476" stroke-width="1.6" fill="none"/>
    <path d="M-4.6 -14 L-8.1 6" stroke="#a3a5a6" stroke-width="0.9" fill="none"/>
    <g clip-path="url(#c7)">
      <!-- shadow under rod A on face -->
      <path d="M-24 -30 L12 -30 L12 -14.5 L-24 -12 Z" fill="#000" opacity="0.18"/>
    </g>
  </g>
  <!-- bridge block between the rods -->
  <path d="M385 430 L409 416.5 L418 431 L396 444 Z" fill="#9b9d9e"/>
  <path d="M385.5 430 L409 416.8" stroke="#b0b2b3" stroke-width="1.2"/>
  <path d="M428.6 424 l1.6 2.6 M388 449.6 l1.6 2.6" stroke="#5e6061" stroke-width="1"/>
  <path d="M429.8 423.6 l1.6 2.6 M389.2 449.2 l1.6 2.6" stroke="#c4c6c7" stroke-width="0.8"/>
  <!-- rod B front sphere -->
  <circle cx="413.8" cy="422" r="8.3" fill="url(#gBall)"/>
  <!-- small hook under rod A -->
  <path d="M366 464 Q368 473.5 376.5 472.5 Q383 471 384.5 462 Z" fill="#a4a6a7"/>
  <path d="M366.5 465.5 Q369 473.5 376.5 472.5 Q382.5 471.2 384 464" stroke="#cfd1d2" stroke-width="1.3" fill="none"/>
  <path d="M366.5 467.5 Q369 475.5 377 474.5 Q383 473 384.6 466" stroke="#6c6e6f" stroke-width="1" fill="none" opacity="0.7"/>
  <!-- rod A (front) -->
  <g transform="translate(345.2 463.6) rotate(-30.2)">
    <path d="M0 -8.7 L52 -8.7 A8 8.7 0 0 1 52 8.7 L0 8.7 A8.7 8.7 0 0 1 0 -8.7Z" fill="url(#gRod)"/>
  </g>
  <circle cx="345.4" cy="463.6" r="8.9" fill="url(#gBall)"/>
</g>
<!-- ========== PART 8 ========== -->
<g id="p8">
  <!-- end cap -->
  <path d="M623.5 293 Q623.2 291 625 290 L640 282.6 Q642.8 281.6 642.8 284.5 L642.8 331 Q642.8 333 641 334 L626 342.5 Q623.5 343.5 623.5 341 Z" fill="#727475"/>
  <path d="M625.5 294.5 L625.5 341 " stroke="#858788" stroke-width="1.2" fill="none"/>
  <!-- groove -->
  <path d="M618.5 290 L623.5 292.5 L623.5 342.5 L618.5 342 Z" fill="#454748"/>
  <!-- front face -->
  <path d="M513.2 234 L618.8 289 L618.8 341.5 L611 345.5 L599.5 339 L599.5 333.5 L538 300.6 L538 305.2 L517.5 295 L513.2 290 Z" fill="#696b6c"/>
  <!-- left thin edge -->
  <path d="M512.4 240 L514.4 239 L514.4 288 L512.4 287 Z" fill="#565859"/>
  <path d="M513.2 262 L516.5 264 L516.5 284 L513.2 282 Z" fill="#5f6162"/>
  <!-- front highlight near cap -->
  <path d="M611 289 L618.8 293 L618.8 341.5 L611 345.5 Z" fill="#7a7c7d"/>
  <path d="M611.3 300 V316 M611.3 320 V338" stroke="#505253" stroke-width="1.2"/>
  <!-- top face -->
  <path d="M529.5 223.2 Q531 222.3 532.8 223.2 L641.5 281 Q643.5 282.3 641.5 283.5 L625 291.8 Q623.5 292.5 622 291.8 L514 236.5 Q512 235.2 514 233.6 Z" fill="#7b7d7e"/>
  <!-- top lip (lower step on front part of top) -->
  <path d="M514 235.6 L537 247 L539.5 251.5 L611 288 L622.5 291.8 L618.8 292.6 L513.4 237.6 Z" fill="#5a5c5d"/>
  <path d="M517 234.5 L538.5 245.2 L541 249.6 L612 285.8" stroke="#8a8c8d" stroke-width="0.9" fill="none"/>
  <!-- cap/top separation -->
  <path d="M621.5 291.2 L638 282.8" stroke="#5b5d5e" stroke-width="0.0" fill="none"/>
  <path d="M604.5 283.2 L622.5 273" stroke="#6a6c6d" stroke-width="0" fill="none"/>
  <!-- A marks -->
  <use href="#amark" transform="translate(535 234.5) scale(1.25)"/>
  <use href="#amark" transform="translate(577.5 257.5) scale(1.25)"/>
  <use href="#amark" transform="translate(619 280) scale(1.25)"/>
</g>
<!-- ========== PART 9 ========== -->
<g id="p9">
  <!-- end cap -->
  <path d="M616.2 438 Q616 436.2 617.6 435.4 L634 426 Q636.8 425 636.8 427.8 L636.8 471.5 Q636.8 473.5 635 474.5 L618.6 485 Q616.2 486 616.2 483.5 Z" fill="#727475"/>
  <path d="M618 439.5 L618 484" stroke="#858788" stroke-width="1.2" fill="none"/>
  <!-- groove -->
  <path d="M611.5 434 L616.2 436.5 L616.2 485.5 L611.5 485 Z" fill="#454748"/>
  <!-- front face -->
  <path d="M520.5 382.5 L612 433.5 L612 483.5 L602 488.5 L594.5 484 L594.5 482.5 L546 456.5 L546 458.5 L535 452 L535 451 L522 444.5 L519 442 L519 432 L521.5 431 L521.5 419 L519 418 L519 411.5 L521.5 410.5 L521.5 405.5 L519 404.5 L519 399 L521.5 398 Z" fill="#696b6c"/>
  <path d="M604.5 432 L612 436 L612 483.5 L604.5 487.5 Z" fill="#7a7c7d"/>
  <path d="M605 443 V455 M605 460 V478" stroke="#505253" stroke-width="1.2"/>
  <!-- top face -->
  <path d="M540 371 Q541.4 370.2 543 371 L635.5 424 Q637.5 425.3 635.5 426.5 L617.5 436 Q616 436.8 614.5 436 L521.5 384.5 Q519.5 383.2 521.5 381.8 Z" fill="#7b7d7e"/>
  <!-- top lip -->
  <path d="M521.5 383.8 L544 395.5 L546.5 400.5 L603 432.5 L615 436.2 L612 437.4 L520.6 386 Z" fill="#5a5c5d"/>
  <path d="M524.5 382.5 L545.5 393.6 L548 398.4 L604.5 430.2" stroke="#8f9192" stroke-width="1" fill="none"/>
  <use href="#amark" transform="translate(558 393) scale(1.25)"/>
  <use href="#amark" transform="translate(585 408.5) scale(1.25)"/>
  <use href="#amark" transform="translate(601.5 418.5) scale(1.25)"/>
</g>
<!-- ========== PART 10 ========== -->
<g id="p10">
  <path d="M703.5 388 L703.5 430 A15 5.5 0 0 0 733.5 430 L733.5 388 Z" fill="url(#gCyl)"/>
  <ellipse cx="718.5" cy="388" rx="15" ry="8.3" fill="#a3a5a6"/>
  <ellipse cx="718.5" cy="388" rx="10" ry="5.2" fill="url(#gHole11)"/>
</g>
<!-- ========== PART 11 ========== -->
<g id="p11">
  <!-- stem -->
  <path d="M709 322 L709 338.5 A10 4 0 0 0 729 338.5 L729 322 Z" fill="url(#gCyl)"/>
  <path d="M709 322 L709 338.5 A10 4 0 0 0 729 338.5 L729 322 Z" fill="#000" opacity="0.12"/>
  <!-- body -->
  <path d="M695.2 255 L695.2 319 A23.4 10 0 0 0 742 319 L742 255 Z" fill="url(#gCyl)"/>
  <!-- top rim -->
  <ellipse cx="718.6" cy="255" rx="23.4" ry="13" fill="#a2a4a5"/>
  <!-- hole -->
  <ellipse cx="718.7" cy="254.8" rx="19" ry="10.3" fill="url(#gHole11)"/>
  <path d="M699.7 254.8 A19 10.3 0 0 1 737.7 254.8 A19 8.2 0 0 0 699.7 254.8Z" fill="#000" opacity="0.14"/>
</g>

<!-- ========== LABELS ========== -->
<g id="labels">
  <text class="lbl" x="124" y="81.2">1</text><path class="ld" d="M124 85V114"/>
  <text class="lbl" x="287" y="81.8">2</text><path class="ld" d="M287 85V113"/>
  <text class="lbl" x="427" y="81.5">3</text><path class="ld" d="M427 85V111"/>
  <text class="lbl" x="585" y="81.7">4</text><path class="ld" d="M585 85V114"/>
  <text class="lbl" x="204" y="251">5</text><path class="ld" d="M204 255V284"/>
  <text class="lbl" x="313" y="400">6</text><path class="ld" d="M312.5 357V383"/>
  <text class="lbl" x="390" y="399">7</text><path class="ld" d="M390 402.5V423"/>
  <text class="lbl" x="586" y="220">8</text><path class="ld" d="M586 223V246.5"/>
  <text class="lbl" x="582.5" y="368">9</text><path class="ld" d="M582.5 370.5V391"/>
  <text class="lbl" x="718" y="472.5">10</text><path class="ld" d="M718 437V456"/>
  <text class="lbl" x="718" y="219.5">11</text><path class="ld" d="M718 222.5V239.5"/>
  <text class="num" x="781.6" y="552.8">473628</text>
</g>
</g>
</svg>
</body>
</html>
